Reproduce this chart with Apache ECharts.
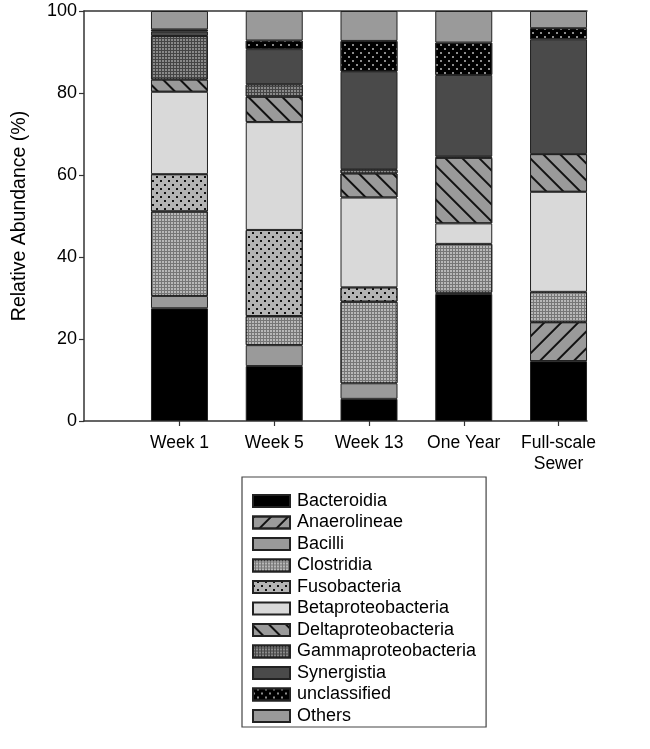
<!DOCTYPE html>
<html>
<head>
<meta charset="utf-8">
<script src="https://cdn.jsdelivr.net/npm/echarts@6/dist/echarts.min.js"></script>
<style>
  html, body { margin: 0; padding: 0; background: #fff; }
  #chart { width: 650px; height: 749px; }
</style>
</head>
<body>
<div id="chart"></div>
<script>
// Sample groups along the x axis
const categories = ['Week 1', 'Week 5', 'Week 13', 'One Year', 'Full-scale\nSewer'];
const yTicks = [0, 20, 40, 60, 80, 100];

// Relative abundance (%) of each class per sample, bottom to top of the stack
const bacteroidia        = [27.5, 13.4,  5.4, 31.0, 14.6];
const anaerolineae       = [ 0.0,  0.0,  0.0,  0.0,  9.5];
const bacilli            = [ 3.0,  5.1,  3.8,  0.3,  0.0];
const clostridia         = [20.6,  7.1, 19.9, 11.9,  7.4];
const fusobacteria       = [ 9.1, 21.0,  3.5,  0.0,  0.0];
const betaproteobacteria = [20.1, 26.3, 21.9,  5.0, 24.4];
const deltaproteobacteria= [ 3.0,  6.2,  5.9, 16.0,  9.2];
const gammaproteobacteria= [10.6,  3.0,  1.0,  0.3,  0.0];
const synergistia        = [ 1.1,  8.6, 23.8, 19.9, 28.0];
const unclassified       = [ 0.5,  2.1,  7.5,  7.9,  2.7];
const others             = [ 4.5,  7.2,  7.3,  7.7,  4.2];

// Fill patterns
const hatch = (angle) => ({
  symbol: 'rect', symbolSize: 1, color: '#111',
  dashArrayX: [1, 0], dashArrayY: [1.1, 9.8], rotation: angle
});
const sparseDots = (c) => ({
  symbol: 'rect', symbolSize: 1, color: c,
  dashArrayX: [[1.5, 5.5], [0, 3.5, 1.5, 2]], dashArrayY: [1.5, 2]
});
const denseDots = (c) => ({
  symbol: 'rect', symbolSize: 1, color: c,
  dashArrayX: [2, 1], dashArrayY: [2, 1]
});

const seriesDefs = [
  { name: 'Bacteroidia',         values: bacteroidia,         color: '#000000' },
  { name: 'Anaerolineae',        values: anaerolineae,        color: '#9a9a9a', decal: hatch(-Math.PI / 4) },
  { name: 'Bacilli',             values: bacilli,             color: '#9a9a9a' },
  { name: 'Clostridia',          values: clostridia,          color: '#767676', decal: denseDots('#b8b8b8') },
  { name: 'Fusobacteria',        values: fusobacteria,        color: '#b4b4b4', decal: sparseDots('#111') },
  { name: 'Betaproteobacteria',  values: betaproteobacteria,  color: '#d9d9d9' },
  { name: 'Deltaproteobacteria', values: deltaproteobacteria, color: '#9a9a9a', decal: hatch(Math.PI / 4) },
  { name: 'Gammaproteobacteria', values: gammaproteobacteria, color: '#454545', decal: denseDots('#8a8a8a') },
  { name: 'Synergistia',         values: synergistia,         color: '#4a4a4a' },
  { name: 'unclassified',        values: unclassified,        color: '#000000', decal: sparseDots('#8c8c8c') },
  { name: 'Others',              values: others,              color: '#9a9a9a' }
];

const FONT = 'Liberation Sans, Arial, sans-serif';
const AXIS_COLOR = '#333';

const series = seriesDefs.map(d => ({
  name: d.name,
  type: 'bar',
  stack: 'total',
  barWidth: 57,
  xAxisIndex: 0,
  yAxisIndex: 0,
  itemStyle: Object.assign(
    { color: d.color, borderColor: '#222', borderWidth: 1 },
    d.decal ? { decal: d.decal } : {}
  ),
  emphasis: { disabled: true },
  data: d.values.map(v => v > 0 ? v : '-')
}));

const chart = echarts.init(document.getElementById('chart'), null, { renderer: 'canvas' });
chart.setOption({
  animation: false,
  backgroundColor: '#ffffff',
  grid: [
    // bars: category bands centred on each sample
    { left: 132.1, right: 44.1, top: 11, bottom: 328, containLabel: false },
    // frame: axis lines, y ticks and title
    { left: 84, right: 63, top: 11, bottom: 328, containLabel: false }
  ],
  xAxis: [
    {
      type: 'category', gridIndex: 0, data: categories, boundaryGap: true,
      axisLine: { show: false },
      axisTick: { show: true, alignWithLabel: true, length: 5, lineStyle: { color: AXIS_COLOR, width: 1.2 } },
      axisLabel: { interval: 0, margin: 12, color: '#000', fontFamily: FONT, fontSize: 17.5, lineHeight: 21 }
    },
    {
      type: 'value', gridIndex: 1, min: 0, max: 1, position: 'bottom',
      axisLine: { show: true, onZero: false, lineStyle: { color: AXIS_COLOR, width: 1.5 } },
      axisTick: { show: false }, axisLabel: { show: false }, splitLine: { show: false }
    },
    {
      type: 'value', gridIndex: 1, min: 0, max: 1, position: 'top',
      axisLine: { show: true, onZero: false, lineStyle: { color: AXIS_COLOR, width: 1.5 } },
      axisTick: { show: false }, axisLabel: { show: false }, splitLine: { show: false }
    }
  ],
  yAxis: [
    {
      type: 'value', gridIndex: 0, min: yTicks[0], max: yTicks[yTicks.length - 1],
      show: false
    },
    {
      type: 'value', gridIndex: 1, min: yTicks[0], max: yTicks[yTicks.length - 1], interval: 20,
      name: 'Relative Abundance (%)', nameLocation: 'middle', nameGap: 54, nameRotate: 90,
      nameTextStyle: { color: '#000', fontFamily: FONT, fontSize: 19.5 },
      axisLine: { show: true, onZero: false, lineStyle: { color: AXIS_COLOR, width: 1.5 } },
      axisTick: { show: true, length: 5, lineStyle: { color: AXIS_COLOR, width: 1.2 } },
      axisLabel: { color: '#000', fontFamily: FONT, fontSize: 18, margin: 7 },
      splitLine: { show: false }
    }
  ],
  legend: {
    orient: 'vertical', left: 242, top: 477,
    padding: [15, 10, 2, 10],
    borderColor: '#444', borderWidth: 1.2,
    itemWidth: 37, itemHeight: 12, itemGap: 3.5,
    icon: 'rect',
    textStyle: { color: '#000', fontFamily: FONT, fontSize: 18, padding: [0, 0, 0, 2] },
    data: seriesDefs.map(d => d.name)
  },
  series: series
});
</script>
</body>
</html>
